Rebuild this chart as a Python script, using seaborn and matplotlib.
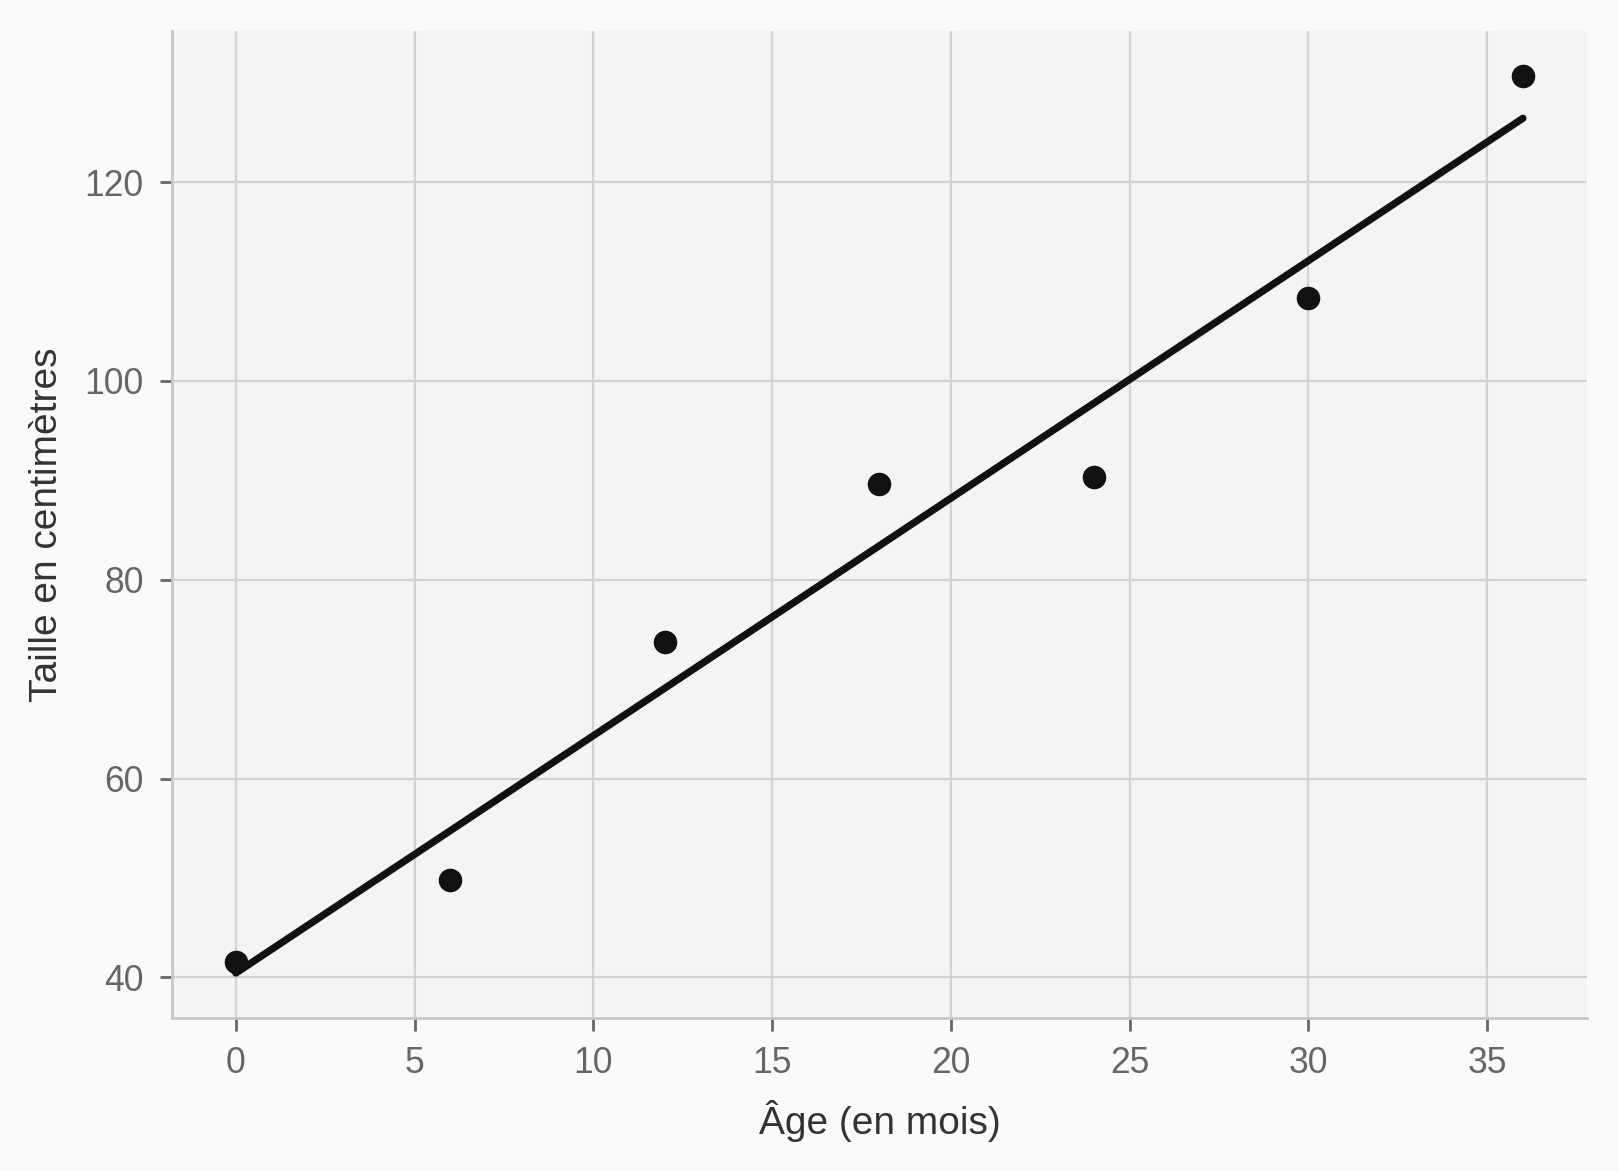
import pandas as pd
import matplotlib
matplotlib.use('Agg')
import matplotlib.pyplot as plt
import seaborn as sns

# data
age_months = [0, 6, 12, 18, 24, 30, 36]
height_cm = [41.5, 49.8, 73.7, 89.6, 90.3, 108.4, 130.7]

df = pd.DataFrame({'age': age_months, 'taille': height_cm})

sns.set_theme(style='whitegrid')
plt.rcParams.update({
    'font.family': ['Liberation Sans', 'DejaVu Sans'],
    'figure.facecolor': '#fafafa',
    'axes.facecolor': '#f4f4f4',
    'axes.edgecolor': '#c8c8c8',
    'axes.linewidth': 1.0,
    'grid.color': '#d2d2d2',
    'grid.linewidth': 0.8,
    'xtick.color': '#666666',
    'ytick.color': '#666666',
    'xtick.labelcolor': '#666666',
    'ytick.labelcolor': '#666666',
    'xtick.bottom': True,
    'ytick.left': True,
    'xtick.major.size': 4.5,
    'ytick.major.size': 4.5,
    'xtick.major.width': 1.0,
    'ytick.major.width': 1.0,
    'xtick.major.pad': 5.5,
    'ytick.major.pad': 5.5,
    'xtick.labelsize': 12.8,
    'ytick.labelsize': 12.8,
    'axes.labelsize': 14,
    'axes.labelcolor': '#333333',
})

fig, ax = plt.subplots(figsize=(8.09, 5.855), dpi=200)
fig.subplots_adjust(left=0.106, right=0.981, top=0.9735, bottom=0.1307)

sns.regplot(data=df, x='age', y='taille', ci=None, ax=ax, color='#111111',
            scatter_kws={'s': 72, 'alpha': 1, 'linewidths': 0},
            line_kws={'linewidth': 2.6})

sns.despine(ax=ax, top=True, right=True)
ax.set_xlabel('Âge (en mois)', labelpad=7)
ax.set_ylabel('Taille en centimètres', labelpad=7)
ax.set_yticks([40, 60, 80, 100, 120])

fig.savefig('out.png', dpi=200, facecolor=fig.get_facecolor())
